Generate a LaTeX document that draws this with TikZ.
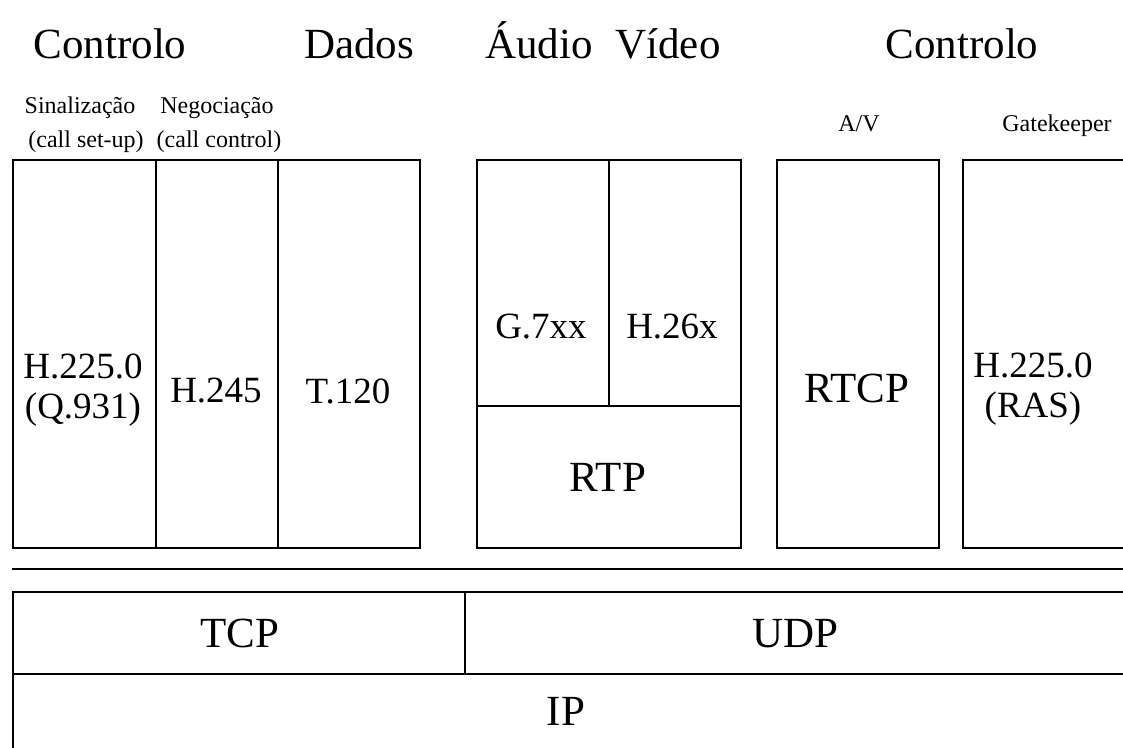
\documentclass[tikz,border=0pt]{standalone}
\usepackage{fontspec}
\setmainfont{Liberation Serif}
\begin{document}
\begin{tikzpicture}[x=1pt,y=-1pt,
  cell/.style={draw,line width=1.6pt,inner sep=0pt,anchor=north west},
  big/.style={font=\fontsize{43}{46}\selectfont,inner sep=0pt,anchor=base},
  mid/.style={font=\fontsize{37}{40}\selectfont,inner sep=0pt,align=center},
  small/.style={font=\fontsize{24}{34}\selectfont,inner sep=0pt,anchor=base},
  rule/.style={line width=1.6pt}]
\clip (0,0) rectangle (1123,747);
\fill[white] (0,0) rectangle (1123,747);

% column headings
\node[big] (hCtl1) at (110,58) {Controlo};
\node[big] (hDat) at (359,58) {Dados};
\node[big] (hAud) at (539,58) {Áudio};
\node[big] (hVid) at (668,58) {Vídeo};
\node[big] (hCtl2) at (962,58) {Controlo};

% sub-headings
\node[small] (sSin) at (80,113) {Sinalização};
\node[small] (sSinB) at (86,147) {(call set-up)};
\node[small] (sNeg) at (217,113) {Negociação};
\node[small] (sNegB) at (219,147) {(call control)};
\node[small] (sAV) at (859,131) {A/V};
\node[small] (sGk) at (1057,131) {Gatekeeper};

% call control and data stack
\node[cell,minimum width=143pt,minimum height=388pt] (q931) at (12,159) {};
\node[cell,minimum width=122pt,minimum height=388pt] (h245) at (155,159) {};
\node[cell,minimum width=142pt,minimum height=388pt] (t120) at (277,159) {};
\node[mid] (tq931) at (83,390) {H.225.0\\(Q.931)};
\node[mid] (th245) at (216,391) {H.245};
\node[mid] (tt120) at (348,391) {T.120};

% media stack
\node[cell,minimum width=132pt,minimum height=246pt] (g7) at (476,159) {};
\node[cell,minimum width=132pt,minimum height=246pt] (h26) at (608,159) {};
\node[cell,minimum width=264pt,minimum height=142pt] (rtp) at (476,405) {};
\node[mid] (tg7) at (541,327) {G.7xx};
\node[mid] (th26) at (672,327) {H.26x};
\node[big] (trtp) at (608,491) {RTP};

% control boxes
\node[cell,minimum width=162pt,minimum height=388pt] (rtcp) at (776,159) {};
\node[cell,minimum width=180pt,minimum height=388pt] (ras) at (962,159) {};
\node[big] (trtcp) at (857,402) {RTCP};
\node[mid] (tras) at (1033,389) {H.225.0\\(RAS)};

% separator
\coordinate (sepL) at (12,569);
\coordinate (sepR) at (1130,569);
\draw[rule] (sepL) -- (sepR);

% transport and network layers
\node[cell,minimum width=452pt,minimum height=82pt] (tcp) at (12,591) {};
\node[cell,minimum width=680pt,minimum height=82pt] (udp) at (464,591) {};
\node[cell,minimum width=1130pt,minimum height=100pt] (ip) at (12,673) {};
\node[big] (ttcp) at (240,647) {TCP};
\node[big] (tudp) at (795,647) {UDP};
\node[big] (tip) at (566,725) {IP};
\end{tikzpicture}
\end{document}
